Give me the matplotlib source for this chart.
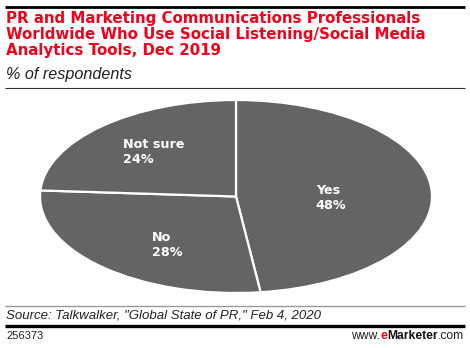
import matplotlib
matplotlib.use("Agg")
import matplotlib.pyplot as plt
from matplotlib.lines import Line2D

plt.rcParams["font.family"] = ["Liberation Sans", "DejaVu Sans"]

# survey shares, clockwise from 12 o'clock
labels = ["Yes", "No", "Not sure"]
shares = [48, 28, 24]
# label anchors inside each slice, in the unit-circle coords of the pie
label_xy = [(0.485, -0.015), (-0.35, -0.50), (-0.42, 0.465)]

title = ("PR and Marketing Communications Professionals\n"
         "Worldwide Who Use Social Listening/Social Media\n"
         "Analytics Tools, Dec 2019")
subtitle = "% of respondents"
source = 'Source: Talkwalker, "Global State of PR," Feb 4, 2020'
chart_id = "256373"

RED = "#f5001a"
GRAY = "#646464"

W, H = 470, 348
fig = plt.figure(figsize=(W / 100, H / 100), dpi=100)


def fy(py):
    return 1 - py / H


def fx(px):
    return px / W


def hline(py, lw, color, x0=5, x1=465):
    fig.add_artist(Line2D([fx(x0), fx(x1)], [fy(py), fy(py)], lw=lw, color=color,
                          transform=fig.transFigure, solid_capstyle="butt"))


hline(7, 2.0, "black")
fig.text(fx(6), fy(11), title, color=RED, fontsize=10.8, fontweight="bold",
         family="DejaVu Sans", va="top", ha="left", linespacing=1.1)
fig.text(fx(6), fy(75), subtitle, fontsize=11.6, style="italic", va="center", color="#222222")
hline(87.5, 0.8, "#333333")

# pie is stretched into an ellipse by the non-square axes
ax = fig.add_axes([fx(40), fy(293), fx(392), 193 / H])
wedges, _ = ax.pie(shares, startangle=90, counterclock=False, colors=[GRAY] * 3,
                   wedgeprops=dict(edgecolor="white", linewidth=1.6))
ax.set_aspect("auto")
ax.set_xlim(-1.0, 1.0)
ax.set_ylim(-1.0, 1.0)
for (x, y), lab, v in zip(label_xy, labels, shares):
    ax.text(x, y, f"{lab}\n{v}%", color="white", fontsize=9.2, fontweight="bold",
            family="DejaVu Sans", ha="center", va="center",
            multialignment="left", linespacing=1.2)

hline(305.5, 1.0, "#999999")
fig.text(fx(6), fy(316), source, fontsize=9.55, style="italic", va="center", color="#222222")
hline(326, 2.4, "black")
fig.text(fx(6), fy(336), chart_id, fontsize=8, va="center", color="#222222")

# www.eMarketer.com, assembled right to left
renderer = fig.canvas.get_renderer()
x_right = fx(464)
parts = [(".com", "normal", "#222222"), ("Marketer", "bold", "#111111"),
         ("e", "bold", RED), ("www.", "normal", "#222222")]
for txt, weight, col in parts:
    t = fig.text(x_right, fy(336), txt, fontsize=8.7, fontweight=weight, color=col,
                 ha="right", va="center")
    bb = t.get_window_extent(renderer)
    x_right -= bb.width / W

fig.savefig("out.png", dpi=100)
